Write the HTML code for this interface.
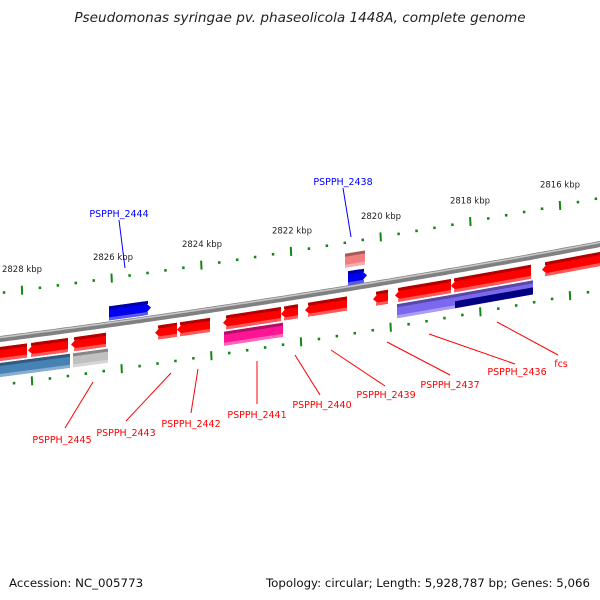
<!DOCTYPE html>
<html><head><meta charset="utf-8"><style>
body{margin:0;background:#fff}
svg{display:block;font-family:"DejaVu Sans","Liberation Sans",sans-serif}
</style></head><body>
<svg id="map" width="600" height="600" viewBox="0 0 600 600" xmlns="http://www.w3.org/2000/svg">
<text x="300" y="22" text-anchor="middle" font-size="13.6" font-style="italic" fill="#222">Pseudomonas syringae pv. phaseolicola 1448A, complete genome</text>
<text x="9" y="587" font-size="11.8" fill="#111">Accession: NC_005773</text>
<text x="590" y="587" text-anchor="end" font-size="11.8" fill="#111">Topology: circular; Length: 5,928,787 bp; Genes: 5,066</text>
<g id="ticks"></g><g id="backbone"></g><g id="genes"></g><g id="labels"></g>
</svg>
<script>
// Tick data (kbp) and screen x of major ticks
const tickKbp = [2828, 2826, 2824, 2822, 2820, 2818, 2816];
const tickX = [22, 113, 202, 292, 381, 470, 560];
// Genes: start x, end x, row offset, color, strand direction
const geneStart = [109, 348, 345, -10, 28, 71, 155, 177, 223, 281, 305, 373, 395, 451, 542, -10, 73, 224, 397, 455];
const geneEnd   = [151, 367, 365, 27, 68, 106, 177, 210, 281, 298, 347, 388, 451, 531, 610, 70, 108, 283, 455, 533];
const geneRow   = [-11, -10, -28, 15, 15, 15, 15, 15, 15, 15, 15, 15, 15, 15, 15, 31, 31, 31, 31, 31];
const geneColor = ['#0000ee','#0000ee','#f08080','#ff0000','#ff0000','#ff0000','#ff0000','#ff0000','#ff0000','#ff0000','#ff0000','#ff0000','#ff0000','#ff0000','#ff0000','#4682b4','#c0c0c0','#ff1493','#7b68ee','#7b68ee'];
const geneDir   = [1, 1, 0, -1, -1, -1, -1, -1, -1, -1, -1, -1, -1, -1, -1, 0, 0, 0, 0, 0];
// Callout labels
const labelText = ['PSPPH_2445','PSPPH_2443','PSPPH_2442','PSPPH_2441','PSPPH_2440','PSPPH_2439','PSPPH_2437','PSPPH_2436','fcs','PSPPH_2444','PSPPH_2438'];
const labelColor = ['red','red','red','red','red','red','red','red','red','blue','blue'];
const labelPos = [[62,443],[126,436],[191,427],[257,418],[322,408],[386,398],[450,388],[517,375],[561,367],[119,217],[343,185]];
const labelLine = [[93,382,65,428],[171,373,126,421],[198,369,191,413],[257,361,257,404],[295,355,320,395],[331,350,385,386],[387,342,450,375],[429,334,515,364],[497,322,558,355],[119,220,125,268],[343,188,351,237]];

const NS='http://www.w3.org/2000/svg';
function yb(x){return 339-0.1283*x-0.00005*x*x;}
function mk(tag,attrs,parent){const e=document.createElementNS(NS,tag);for(const k in attrs)e.setAttribute(k,attrs[k]);parent.appendChild(e);return e;}
function slope(x){return -0.1283-0.0001*x;}

// backbone
const bb=document.getElementById('backbone');
let d='';for(let x=-5;x<=605;x+=5)d+=(x<0?'M':'L')+x+','+yb(x).toFixed(1);
let p=mk('path',{d:d,stroke:'#808080','stroke-width':6,fill:'none'},bb);


p=mk('path',{d:d,stroke:'#c8c8c8','stroke-width':1.5,fill:'none',transform:'translate(0,-1.5)'},bb);



// ticks
const tg=document.getElementById('ticks');
function tick(x,off,major,name){
  const y=yb(x)+off, s=slope(x);
  const len=major?4.5:1.3;
  const l=mk('line',{x1:x+s*len*0.3,y1:y-len,x2:x-s*len*0.3,y2:y+len,stroke:'#118811','stroke-width':major?2:2.5},tg);
  
  
}
const step=(tickX[tickX.length-1]-tickX[0])/(tickX.length-1)/5;
for(let i=-2;i<=(tickX.length-1)*5+3;i++){
  const x=tickX[0]+i*step;
  tick(x,-46,i%5===0,i%5===0?'major-tick-upper':'minor-tick-upper');
  tick(x+10,46,i%5===0,i%5===0?'major-tick-lower':'minor-tick-lower');
}
for(let i=0;i<tickKbp.length;i++){
  const x=tickX[i];
  const t=mk('text',{x:x,y:yb(x)-64,'text-anchor':'middle','font-size':8.5,fill:'#222'},tg);
  t.textContent=tickKbp[i]+' kbp';
  
  
}

// genes
const gg=document.getElementById('genes');
function shade(c,f){const n=parseInt(c.slice(1),16);let r=n>>16,g=(n>>8)&255,b=n&255;
  const m=v=>Math.max(0,Math.min(255,Math.round(f<1?v*f:v+(255-v)*(f-1))));return 'rgb('+m(r)+','+m(g)+','+m(b)+')';}
function band(x1,x2,o,t,b2,dir,hh){
  const ah=7,pts=[];
  const a=dir<0?x1+ah:x1,bx=dir>0?x2-ah:x2;
  const Y=(x,f)=>yb(x)+o+f;
  pts.push([a,Y(a,t)],[bx,Y(bx,t)]);
  if(dir>0){pts.push([x2,Y(x2,0)]);}
  pts.push([bx,Y(bx,b2)],[a,Y(a,b2)]);
  if(dir<0){pts.push([x1,Y(x1,0)]);}
  return pts.map(q=>q[0].toFixed(1)+','+q[1].toFixed(1)).join(' ');
}
for(let i=0;i<geneStart.length;i++){
  const g=mk('g',{},gg);
  
  
  const hh=7,c=geneColor[i],dir=geneDir[i];
  mk('polygon',{points:band(geneStart[i],geneEnd[i],geneRow[i],-hh,hh,dir,hh),fill:c},g);
  mk('polygon',{points:band(geneStart[i]+(dir<0?3:0),geneEnd[i]-(dir>0?3:0),geneRow[i],-hh,-hh+3,0,hh),fill:shade(c,0.7)},g);
  mk('polygon',{points:band(geneStart[i]+(dir<0?3:0),geneEnd[i]-(dir>0?3:0),geneRow[i],hh-3,hh,0,hh),fill:shade(c,1.35)},g);
  if(i===19){mk('polygon',{points:band(geneStart[i],geneEnd[i],geneRow[i],0,hh,0,hh),fill:'#000080'},g);}
}

// labels
const lg=document.getElementById('labels');
for(let i=0;i<labelText.length;i++){
  const L=labelLine[i];
  const ln=mk('line',{x1:L[0],y1:L[1],x2:L[2],y2:L[3],stroke:labelColor[i],'stroke-width':1},lg);
  
  
  const t=mk('text',{x:labelPos[i][0],y:labelPos[i][1],'text-anchor':'middle','font-size':9.5,fill:labelColor[i]},lg);
  t.textContent=labelText[i];
  
  
}
</script>
</body></html>
